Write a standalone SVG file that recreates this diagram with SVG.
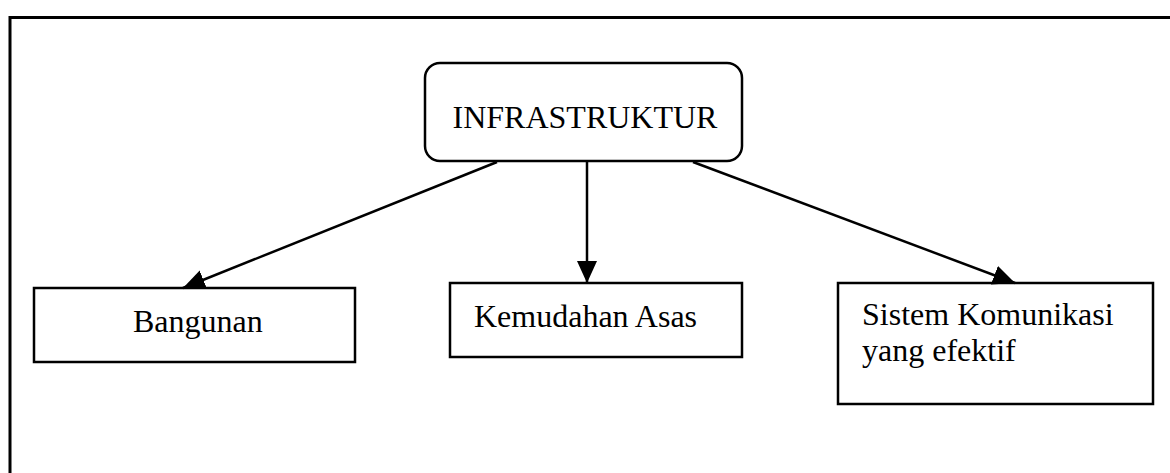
<svg xmlns="http://www.w3.org/2000/svg" width="1170" height="473" viewBox="0 0 1170 473">
<style>
.box{fill:#fff;stroke:#000;stroke-width:2.5}
.lbl{font-family:"Liberation Serif","Times New Roman",serif;font-size:32px;fill:#000}
.conn{stroke:#000;stroke-width:2.5;fill:none}
</style>
<defs>
<marker id="ah" markerUnits="userSpaceOnUse" markerWidth="24" markerHeight="22" refX="22" refY="10" orient="auto">
<path d="M0,0 L22,10 L0,20 Z" fill="#000"/>
</marker>
</defs>
<rect width="1170" height="473" fill="#fff"/>
<path d="M10,473 L10,17.5 L1170,17.5" fill="none" stroke="#000" stroke-width="3"/>
<g id="infrastruktur">
<rect class="box" x="425" y="63" width="317" height="98" rx="15"/>
<text class="lbl" x="585" y="128" text-anchor="middle">INFRASTRUKTUR</text>
</g>
<g id="bangunan">
<rect class="box" x="34" y="288" width="321" height="74"/>
<text class="lbl" x="133" y="332">Bangunan</text>
</g>
<g id="kemudahan">
<rect class="box" x="450" y="283" width="292" height="74"/>
<text class="lbl" x="474" y="327">Kemudahan Asas</text>
</g>
<g id="sistem">
<rect class="box" x="838" y="283" width="315" height="121"/>
<text class="lbl" x="862" y="325">Sistem Komunikasi</text>
<text class="lbl" x="862" y="361">yang efektif</text>
</g>
<g id="connectors">
<line class="conn" x1="497" y1="162" x2="183" y2="288" marker-end="url(#ah)"/>
<line class="conn" x1="587" y1="162" x2="587" y2="283" marker-end="url(#ah)"/>
<line class="conn" x1="693" y1="162" x2="1015" y2="283" marker-end="url(#ah)"/>
</g>
</svg>
